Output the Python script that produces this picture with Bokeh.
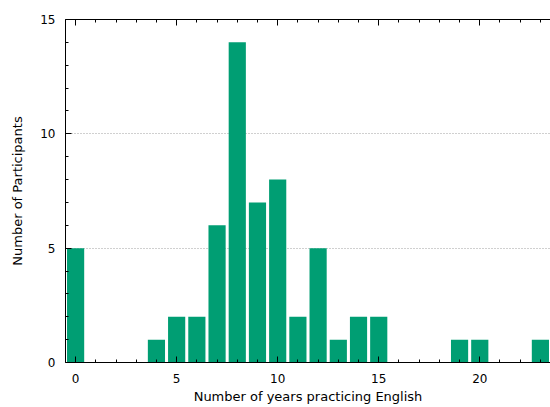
from bokeh.plotting import figure
from bokeh.models import Range1d, SingleIntervalTicker, LinearAxis, CustomLabelingPolicy
from bokeh.embed import file_html
from bokeh.resources import INLINE

years = list(range(0, 24))
participants = [5, 0, 0, 0, 1, 2, 2, 6, 14, 7, 8, 2, 5, 1, 2, 2, 0, 0, 0, 1, 1, 0, 0, 1]

FONT = "DejaVu Sans"

p = figure(width=550, height=407,
           x_range=Range1d(-0.5, 23.5), y_range=Range1d(0, 15),
           output_backend="svg", toolbar_location=None,
           min_border_left=65, min_border_right=0,
           min_border_top=19, min_border_bottom=45)

p.vbar(x=years, top=participants, width=0.85, bottom=0,
       fill_color="#009E73", line_color=None)

p.outline_line_color = None
p.xgrid.visible = False
p.ygrid.grid_line_color = "#a0a0a0"
p.ygrid.grid_line_dash = "1 2"
p.ygrid.grid_line_width = 1
p.ygrid.ticker = SingleIntervalTicker(interval=5)

def style_axis(ax):
    ax.ticker = SingleIntervalTicker(interval=5, num_minor_ticks=5)
    ax.axis_line_color = "black"
    ax.axis_line_width = 1
    ax.major_tick_in = 6
    ax.major_tick_out = 0
    ax.minor_tick_in = 3
    ax.minor_tick_out = 0
    ax.major_tick_line_color = "black"
    ax.minor_tick_line_color = "black"
    ax.major_label_text_font = FONT
    ax.major_label_text_font_size = "12px"
    ax.major_label_text_color = "black"
    ax.axis_label_text_font = FONT
    ax.axis_label_text_font_size = "13px"
    ax.axis_label_text_font_style = "normal"
    ax.axis_label_text_color = "black"

style_axis(p.xaxis[0])
style_axis(p.yaxis[0])
p.xaxis.axis_label = "Number of years practicing English"
p.yaxis.axis_label = "Number of Participants"
p.xaxis.major_label_standoff = 11
p.xaxis.axis_label_standoff = 3
p.yaxis.major_label_standoff = 10
p.yaxis.axis_label_standoff = 12

top = LinearAxis()
style_axis(top)
top.major_label_standoff = 0
top.major_label_policy = CustomLabelingPolicy(
    code="for (const i of Array.from(indices)) { indices.unset(i) }\nreturn indices")
p.add_layout(top, "above")

open("out.html", "w").write(file_html(p, INLINE))
